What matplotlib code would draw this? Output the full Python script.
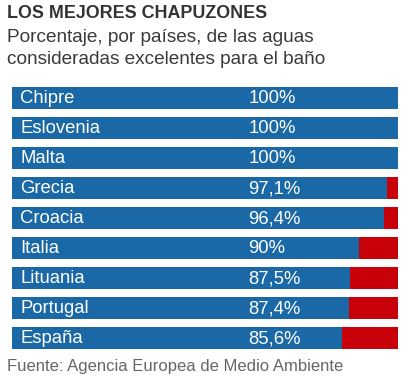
import matplotlib
matplotlib.use("Agg")
import matplotlib.pyplot as plt

countries = ["Chipre", "Eslovenia", "Malta", "Grecia", "Croacia", "Italia",
             "Lituania", "Portugal", "España"]
values = [100, 100, 100, 97.1, 96.4, 90, 87.5, 87.4, 85.6]
labels = ["100%", "100%", "100%", "97,1%", "96,4%", "90%", "87,5%", "87,4%", "85,6%"]

W, H = 414, 379
fig = plt.figure(figsize=(W / 100, H / 100), dpi=100)
plt.rcParams['font.family'] = ['Liberation Sans', 'DejaVu Sans']

blue = "#1a69a6"
red = "#c8000a"

x0, x1 = 12, 398
y_top, y_bot = 87, 349
ax = fig.add_axes([x0 / W, 1 - y_bot / H, (x1 - x0) / W, (y_bot - y_top) / H])
bh = 22 / 30
n = len(countries)
ypos = list(range(n))
ax.barh(ypos, values, height=bh, color=blue, left=0)
ax.barh(ypos, [100 - v for v in values], left=values, height=bh, color=red)
ax.set_xlim(0, 100)
ax.set_ylim(n - 1 + bh / 2, -bh / 2)
ax.axis("off")

for i, (c, l) in enumerate(zip(countries, labels)):
    ax.text(2.1, i + 0.03, c, color="white", fontsize=13.3, va="center", ha="left")
    ax.text(61.2, i + 0.03, l, color="white", fontsize=13.3, va="center", ha="left")

fig.text(7 / W, 1 - 14 / H, "LOS MEJORES CHAPUZONES", fontsize=12.9, fontweight="bold",
         color="#333333", va="center", ha="left")
fig.text(7 / W, 1 - 37 / H, "Porcentaje, por países, de las aguas", fontsize=13.7,
         color="#3a3a3a", va="center", ha="left")
fig.text(7 / W, 1 - 60 / H, "consideradas excelentes para el baño", fontsize=13.7,
         color="#3a3a3a", va="center", ha="left")
fig.text(7 / W, 1 - 366 / H, "Fuente: Agencia Europea de Medio Ambiente", fontsize=12.0,
         color="#666666", va="center", ha="left")

fig.savefig("out.png", dpi=100)
